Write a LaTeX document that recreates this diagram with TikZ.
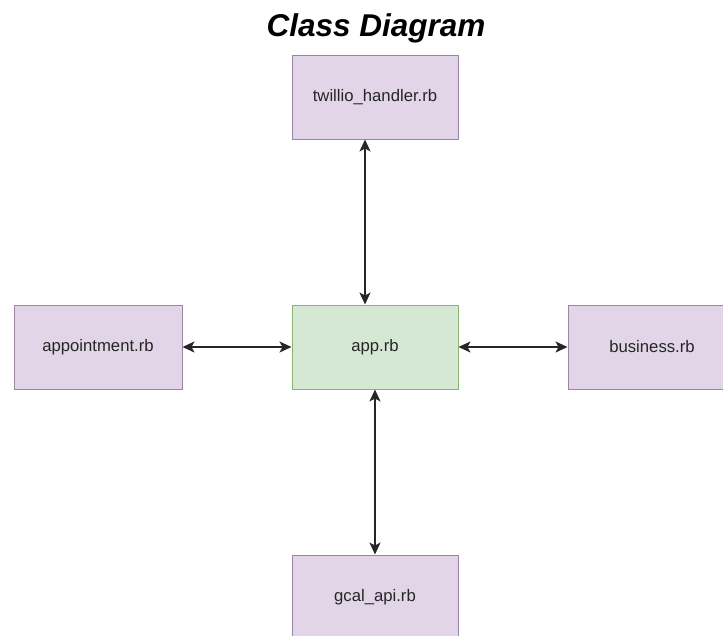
\documentclass[tikz,border=0pt]{standalone}
\usepackage{fontspec}
\setmainfont{Liberation Sans}
\usetikzlibrary{arrows.meta}
\definecolor{pfill}{HTML}{E1D5E7}
\definecolor{pdraw}{HTML}{9A86A4}
\definecolor{gfill}{HTML}{D5E8D4}
\definecolor{gdraw}{HTML}{8DB374}
\tikzset{
  cls/.style={draw=pdraw, fill=pfill, line width=1pt, minimum width=166pt, minimum height=84pt, inner sep=0pt, font=\fontsize{16.7}{20}\selectfont, text=black!85},
  main/.style={cls, draw=gdraw, fill=gfill},
  arr/.style={black!85, line width=1.5pt, {Stealth[length=12pt,width=11pt,inset=3pt]}-{Stealth[length=12pt,width=11pt,inset=3pt]}}
}
\begin{document}
\begin{tikzpicture}[x=1pt,y=-1pt]
\useasboundingbox (0,0) rectangle (723,635);
\node[font=\fontsize{31.5}{36}\selectfont\bfseries\itshape, anchor=base, inner sep=0pt] (title) at (376,36) {Class Diagram};
\node[cls] (tw) at (375,97) {twillio\_handler.rb};
\node[main] (app) at (375,347) {app.rb};
\node[cls, minimum width=168pt] (appt) at (98,347) {appointment.rb};
\node[cls, minimum width=168pt] (bus) at (652,347) {business.rb};
\node[cls] (gc) at (375,597) {gcal\_api.rb};
\draw[arr] ([xshift=-10pt]tw.south) -- ([xshift=-10pt]app.north);
\draw[arr] (app.south) -- (gc.north);
\draw[arr] (appt.east) -- (app.west);
\draw[arr] (app.east) -- (bus.west);
\end{tikzpicture}
\end{document}
